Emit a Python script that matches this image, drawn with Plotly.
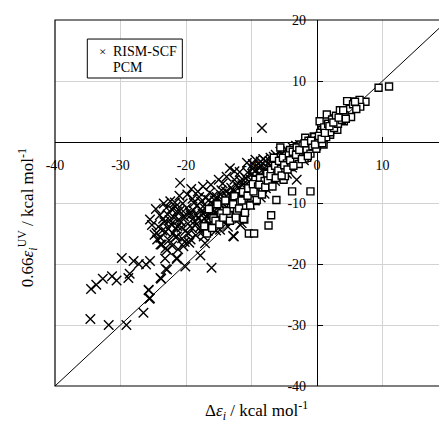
import plotly.graph_objects as go

# ---- data ----
rism_x = [-34.6, -31.8, -29.1, -26.5, -25.6, -25.7, -23.8, -23.1, -20.1, -16.1,
          -34.5, -33.7, -32.7, -31.3, -30.6, -28.8, -28.6, -29.8, -28.0, -27.2,
          -26.1, -25.5, -23.2, -21.4, -17.8, -25.2, -23.4, -21.6, -24.5, -23.9,
          -23.1, -21.4, -20.4, -19.3, -17.3, -15.8, -14.8, -12.8, -17.3, -12.7,
          -11.5, -17.1, -8.4, -11.7, -25.7, -25.5, -23.9, -22.9, -24.4, -23.7,
          -22.9, -21.4, -25.5, -21.4,
          -24.8, -24.2, -23.9, -23.5, -23.1, -22.8, -22.6, -22.3, -22.0, -21.8,
          -21.5, -21.2, -21.0, -20.8, -20.6, -20.3, -20.1, -19.9, -19.7, -19.5,
          -19.3, -19.1, -18.9, -18.7, -18.5, -18.3, -18.1, -17.9, -17.7, -17.5,
          -17.3, -17.1, -16.9, -16.7, -16.5, -16.3, -16.1, -15.9, -15.7, -15.5,
          -15.3, -15.1, -14.9, -14.7, -14.5, -14.3, -14.1, -13.9, -13.7, -13.5,
          -13.3, -13.1, -12.9, -12.7, -12.5, -12.3, -12.1, -11.9, -11.7, -11.5,
          -11.3, -11.1, -10.9, -10.7, -10.5, -10.3, -10.1, -9.9, -9.7, -9.5,
          -9.3, -9.1, -8.9, -8.7, -8.5, -8.3, -8.1, -7.9, -7.7, -7.5,
          -7.3, -7.1, -6.9, -6.7, -6.5, -6.3, -6.1, -5.9, -5.6, -5.3,
          -5.0, -4.7, -4.4, -4.1, -3.8, -3.5, -3.1, -3.0, -2.6, -2.2,
          -1.8, -1.2,
          -24.6, -24.0, -23.6, -23.0, -22.5, -22.1, -21.7, -21.3, -20.9, -20.5,
          -20.2, -19.8, -19.4, -19.0, -18.6, -18.2, -17.8, -17.4, -17.0, -16.6,
          -16.2, -15.8, -15.4, -15.0, -14.6, -14.2, -13.8, -13.4, -13.0, -12.6,
          -12.2, -11.8, -11.4, -11.0, -10.6, -10.2, -9.8, -9.4, -9.0, -8.6,
          -8.2, -7.8, -7.4, -7.0, -6.6, -6.2, -5.8, -5.4, -4.9, -4.5,
          -4.0, -3.6, -3.2, -2.8, -2.4, -2.0, -1.5, -0.9,
          -23.3, -22.7, -22.2, -21.6, -21.1, -20.7, -20.0, -19.6, -18.8, -18.4,
          -17.6, -17.2, -16.8, -16.4, -16.0, -15.6, -15.2, -14.8, -14.4, -14.0,
          -13.6, -13.2, -12.8, -12.4, -12.0, -11.6, -11.2, -10.8, -10.4, -10.0,
          -9.6, -9.2, -8.8, -8.4, -8.0, -7.6, -7.2, -6.8, -6.4, -6.0,
          -9.8, -9.4, -9.0, -8.6, -8.2, -7.8, -7.4, -7.0, -6.6, -6.2,
          -5.8, -5.4, -5.0, -4.6, -4.2, -3.8, -3.4, -2.9, -12.6, -11.9,
          -13.6, -14.4, -15.4, -16.4, -18.0, -19.2, -21.0, -22.4]
rism_y = [-29.0, -30.0, -30.0, -28.0, -25.7, -24.3, -22.4, -20.8, -20.4, -20.6,
          -24.1, -23.4, -22.4, -22.0, -22.7, -22.3, -21.6, -19.0, -19.5, -20.0,
          -20.1, -19.5, -19.1, -19.2, -18.6, -13.6, -10.1, -10.6, -14.9, -15.7,
          -17.4, -15.5, -17.1, -16.0, -15.5, -14.1, -14.4, -15.4, -14.1, -15.5,
          -13.3, -16.6, 2.3, -13.6, -24.2, -25.6, -22.3, -20.9, -16.0, -16.8,
          -17.7, -19.0, -12.7, -11.4,
          -15.2, -13.9, -16.8, -12.6, -14.7, -11.9, -16.1, -13.5, -15.0, -12.4,
          -14.2, -17.6, -11.3, -13.1, -15.8, -12.2, -14.6, -10.8, -13.4, -16.5,
          -12.0, -14.1, -11.2, -13.0, -15.3, -10.4, -12.6, -14.0, -9.8, -11.7,
          -13.3, -10.9, -12.2, -14.6, -9.5, -11.4, -12.9, -10.2, -11.8, -13.6,
          -9.0, -10.7, -12.3, -8.6, -10.0, -11.5, -13.0, -8.1, -9.6, -11.0,
          -4.3, -7.5, -9.1, -10.6, -12.1, -7.0, -8.5, -10.0, -6.4, -8.0,
          -9.4, -11.2, -5.9, -3.4, -7.4, -8.8, -6.2, -5.2, -7.7, -9.6,
          -4.6, -6.6, -8.1, -3.9, -5.6, -7.2, -4.8, -3.1, -6.1, -4.2,
          -5.3, -2.6, -4.0, -5.8, -3.3, -2.1, -4.6, -3.0, -1.6, -3.8,
          -2.4, -1.2, -3.1, -2.0, -0.8, -2.6, -6.2, -1.4, -0.5, -1.9,
          -0.9, -0.3,
          -11.0, -12.0, -14.5, -10.8, -12.8, -17.0, -9.9, -13.8, -6.7, -10.1,
          -16.4, -8.6, -11.6, -9.3, -13.7, -8.1, -11.0, -7.3, -9.2, -12.1,
          -7.0, -8.8, -11.5, -6.2, -7.9, -9.8, -5.7, -8.4, -12.4, -6.2,
          -9.8, -4.9, -7.1, -8.7, -5.0, -10.3, -3.6, -6.9, -5.3, -9.1,
          -2.8, -7.6, -3.6, -6.6, -2.4, -5.2, -4.1, -2.0, -3.7, -4.6,
          -1.5, -3.3, -0.6, -2.2, -1.2, -3.0, -1.5, -0.8,
          -13.1, -14.2, -11.0, -15.6, -12.7, -14.0, -11.8, -15.0, -10.0, -12.0,
          -14.8, -12.5, -10.5, -13.5, -11.1, -9.6, -12.6, -10.3, -12.9, -11.0,
          -9.2, -10.2, -8.0, -11.0, -7.5, -9.0, -6.3, -9.2, -6.5, -8.0,
          -5.8, -7.4, -4.3, -6.0, -8.5, -5.0, -3.1, -4.8, -6.4, -2.6,
          -4.4, -2.9, -7.9, -3.2, -6.4, -4.5, -7.1, -3.9, -5.3, -3.6,
          -5.6, -4.3, -1.5, -5.2, -2.8, -4.2, -1.8, -3.4, -4.8, -12.6,
          -13.9, -6.8, -14.5, -8.3, -9.0, -7.7, -8.8, -9.7]

pcm_x = [-11.1, -10.4, -9.6, -7.4, -7.0, -9.4, -6.2, -3.8, -1.0, -11.2,
         -8.4, -9.9, -11.2, -9.4, -6.6, -4.3, -5.6, -6.9, -5.1, -1.5,
         9.4, 11.0, 5.0, 6.3, 7.4, 6.6, 3.7, 5.2, 1.5, 2.8,
         0.4, 4.1, 2.0, 0.8, 3.1, 2.0, 1.0, -0.5, -1.8, 0.0,
         1.0, -2.5, -2.0, -3.6, -5.6, -4.1, -2.5, 4.6,
         -16.5, -15.8, -15.2, -14.6, -14.0, -13.5, -13.1, -12.6, -12.2, -11.8,
         -11.3, -10.9, -10.5, -10.1, -9.8, -9.4, -9.0, -8.7, -8.3, -8.0,
         -7.6, -7.3, -7.0, -6.7, -6.4, -6.1, -5.8, -5.5, -5.2, -4.9,
         -4.6, -4.3, -4.0, -3.7, -3.4, -3.1, -2.8, -2.5, -2.2, -1.9,
         -1.6, -1.3, -1.0, -0.7, -0.4, -0.1, 0.2, 0.5, 0.8, 1.1,
         1.4, 1.7, 2.0, 2.3, 2.6, 2.9, 3.2, 3.5, 3.8, 4.2,
         5.5, 6.0, 6.5,
         -17.2, -16.8, -16.0, -15.5, -14.9, -14.3, -13.8, -13.3, -12.8, -12.4,
         -11.9, -11.5, -11.0, -10.6, -10.2, -9.7, -9.2, -8.8, -8.4, -7.9,
         -7.5, -7.1, -6.8, -6.3, -5.9, -5.4, -5.0, -4.5, -4.1, -3.6,
         -3.2, -2.7, -2.3, -1.9, -1.4, -0.9, -0.3, 0.3, 0.7, 1.2,
         1.9, 2.5, 3.3, 4.0, 4.4, 5.8]
pcm_y = [-12.7, -15.0, -15.0, -13.7, -12.0, -9.7, -9.5, -8.1, -8.1, -12.6,
         -7.5, -9.2, -9.5, -6.2, -2.6, -3.4, -4.8, -5.9, -6.2, -2.6,
         8.9, 9.1, 6.6, 6.6, 6.6, 5.8, 4.9, 4.1, 4.5, 3.9,
         3.4, 3.4, 2.8, 2.0, 2.0, 1.2, 0.4, 0.9, 0.7, -0.7,
         -0.4, -0.4, -1.8, -1.0, -0.9, -1.3, -2.1, 6.7,
         -11.0, -12.5, -10.2, -11.7, -9.6, -12.0, -10.8, -8.9, -11.3, -9.9,
         -8.2, -10.5, -7.6, -9.1, -6.9, -8.4, -7.3, -5.9, -7.8, -6.4,
         -5.2, -7.0, -4.6, -6.1, -3.9, -5.3, -3.1, -4.4, -2.6, -5.6,
         -3.5, -2.2, -4.1, -1.6, -2.9, -0.9, -3.6, -2.0, -0.6, -2.7,
         -1.3, 0.2, -1.9, -0.7, 0.8, -1.1, 0.3, 1.5, -0.2, 2.4,
         0.8, 3.0, 1.6, 3.7, 2.3, 4.3, 3.0, 5.2, 3.6, 4.4,
         6.2, 5.4, 6.9,
         -13.8, -15.0, -14.1, -12.9, -13.5, -12.4, -11.3, -12.9, -10.2, -12.4,
         -10.9, -9.6, -11.6, -8.8, -10.4, -8.1, -9.5, -7.0, -8.6, -7.4,
         -6.3, -5.6, -7.3, -5.9, -4.7, -5.5, -3.8, -4.5, -3.0, -3.9,
         -2.1, -1.3, -2.8, -0.2, -2.3, 0.2, -0.4, 1.0, 0.5, 1.5,
         2.6, 3.2, 4.0, 5.2, 3.8, 6.6]

diag = [-40, 20]
x_ticks = [-40, -30, -20, -10, 0, 10, 20]
y_ticks = [-40, -30, -20, -10, 10, 20]
x_range = [-40, 20]
y_range = [-40, 20]
legend_names = ["RISM-SCF", "PCM"]

serif = "Liberation Serif, Times New Roman, serif"

fig = go.Figure()
fig.add_trace(go.Scatter(x=diag, y=diag, mode="lines",
                         line=dict(color="black", width=1), showlegend=False,
                         hoverinfo="skip"))
fig.add_trace(go.Scatter(x=rism_x, y=rism_y, mode="markers", name=legend_names[0],
                         showlegend=False,
                         marker=dict(symbol="x-thin", size=9.5, color="black",
                                     line=dict(color="black", width=1.4))))
fig.add_trace(go.Scatter(x=pcm_x, y=pcm_y, mode="markers", name=legend_names[1],
                         showlegend=False,
                         marker=dict(symbol="square", size=7, color="white",
                                     line=dict(color="black", width=1.4))))

x_pos = (0 - y_range[0]) / (y_range[1] - y_range[0])
y_pos = (0 - x_range[0]) / (x_range[1] - x_range[0])

axis_common = dict(anchor="free", showline=True, linecolor="black", linewidth=1.2,
                   ticks="inside", ticklen=5, tickcolor="black", showgrid=True,
                   gridcolor="#d3d3d3", gridwidth=1, zeroline=False,
                   automargin=False, layer="below traces",
                   tickfont=dict(family=serif, size=14))

# the page body keeps its default 8px margin, so the figure is offset by 8px
fig.update_layout(
    width=447, height=426,
    margin=dict(l=47, r=7, t=12, b=48, autoexpand=False),
    paper_bgcolor="white", plot_bgcolor="white",
    font=dict(family=serif, size=14, color="black"),
    showlegend=False,
    xaxis=dict(range=x_range, tickvals=x_ticks, ticktext=[str(v) for v in x_ticks],
               position=x_pos, ticklabelstandoff=10, **axis_common),
    yaxis=dict(range=y_range, tickvals=y_ticks, ticktext=[str(v) for v in y_ticks],
               position=y_pos, ticklabelstandoff=8, **axis_common),
    shapes=[dict(type="rect", xref="paper", yref="paper", x0=0, x1=1, y0=0, y1=1,
                 line=dict(color="black", width=1.2), layer="above"),
            # legend box
            dict(type="rect", xref="paper", yref="paper", x0=0.0822, x1=0.324,
                 y0=0.8415, y1=0.948, line=dict(color="black", width=1),
                 fillcolor="white", layer="above")],
    annotations=[
        dict(text="×", xref="paper", yref="paper", x=0.12, y=0.9126,
             showarrow=False, xanchor="center", yanchor="middle",
             font=dict(family=serif, size=13)),
        dict(text=legend_names[0], xref="paper", yref="paper", x=0.143, y=0.9126,
             showarrow=False, xanchor="left", yanchor="middle",
             font=dict(family=serif, size=14)),
        dict(text=legend_names[1], xref="paper", yref="paper", x=0.143, y=0.8689,
             showarrow=False, xanchor="left", yanchor="middle",
             font=dict(family=serif, size=14)),
        dict(text="Δ<i>ε<sub>i</sub></i> / kcal mol<sup>-1</sup>",
             xref="paper", yref="paper", x=0.512, y=-0.066, showarrow=False,
             xanchor="center", yanchor="middle", font=dict(family=serif, size=17)),
        dict(text="0.66<i>ε<sub>i</sub></i><sup>UV</sup> / kcal mol<sup>-1</sup>",
             xref="paper", yref="paper", x=-0.07, y=0.46, showarrow=False,
             textangle=-90, xanchor="center", yanchor="middle",
             font=dict(family=serif, size=17)),
    ],
)

fig.write_html("out.html")
